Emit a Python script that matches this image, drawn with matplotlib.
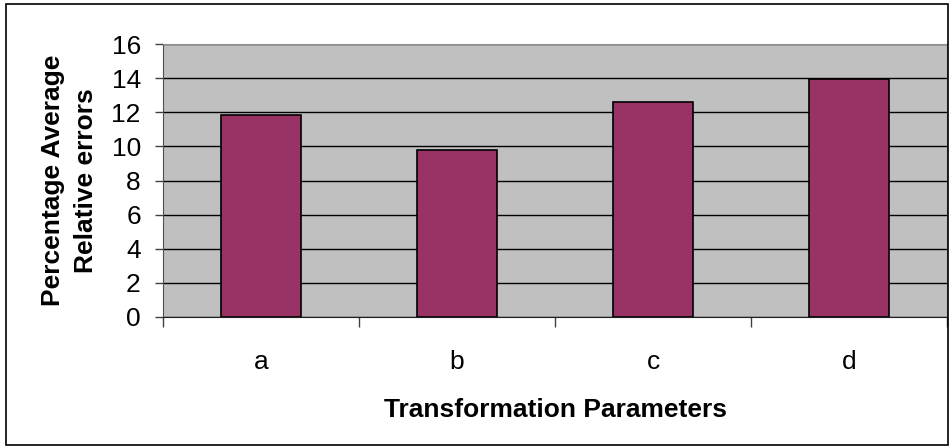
import matplotlib.pyplot as plt
from matplotlib.patches import Rectangle

plt.rcParams['font.family'] = ['Liberation Sans', 'DejaVu Sans']

categories = ['a', 'b', 'c', 'd']
errors = [11.85, 9.8, 12.63, 13.94]
y_ticks = [0, 2, 4, 6, 8, 10, 12, 14, 16]

fig = plt.figure(figsize=(9.52, 4.48), dpi=100)
ax = fig.add_axes([163 / 952, 1 - 317 / 448, 784 / 952, 273 / 448])

# plot area background and grid
ax.set_facecolor('#C0C0C0')
ax.set_axisbelow(True)
ax.yaxis.grid(True, color='black', linewidth=1)

x = list(range(len(categories)))
ax.bar(x, errors, width=0.41, color='#993366', edgecolor='black', linewidth=1.2)

ax.set_xlim(-0.5, len(categories) - 0.5)
ax.set_ylim(0, 16)
ax.set_yticks(y_ticks)
ax.set_xticks(x)
ax.set_xticklabels(categories)
ax.set_xticks([i - 0.5 for i in range(len(categories) + 1)], minor=True)

ax.tick_params(axis='y', labelsize=19, length=6, width=1, color='#404040', pad=10)
ax.tick_params(axis='x', which='major', labelsize=19, length=0, pad=24)
ax.tick_params(axis='x', which='minor', length=7, width=1, color='#404040')

for side in ['top', 'right']:
    ax.spines[side].set_color('#909090')
ax.spines['left'].set_color('#505050')
ax.spines['bottom'].set_color('#202020')

ax.set_ylabel('Percentage Average\nRelative errors', fontsize=19, fontweight='bold',
              linespacing=1.45, labelpad=10)
ax.set_xlabel('Transformation Parameters', fontsize=19, fontweight='bold', labelpad=17)

# outer chart border
fig.patches.append(Rectangle((6 / 952, 3 / 448), 942 / 952, 441 / 448, transform=fig.transFigure,
                             fill=False, edgecolor='black', linewidth=1.2))

fig.savefig('out.png', dpi=100)
